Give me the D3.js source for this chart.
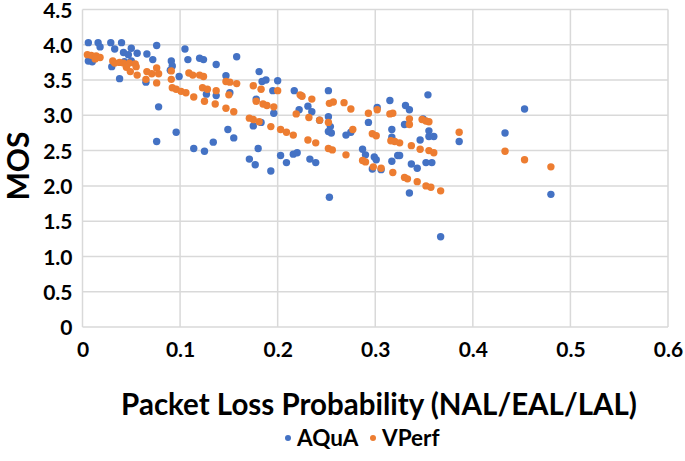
<!DOCTYPE html>
<html><head><meta charset="utf-8">
<script src="https://cdn.jsdelivr.net/npm/d3@7"></script>
<style>
body{margin:0;background:#fff;}
text{font-family:Lato,"Open Sans",sans-serif;font-weight:700;fill:#000;}
</style></head>
<body><svg id="c" width="685" height="461"></svg>
<script>
const aquaX=[0.006,0.016,0.018,0.029,0.033,0.040,0.042,0.047,0.050,0.056,0.066,0.072,0.076,0.006,0.010,0.030,0.038,0.065,0.043,0.050,0.091,0.092,0.090,0.099,0.105,0.108,0.078,0.096,0.076,0.114,0.120,0.124,0.137,0.158,0.147,0.181,0.184,0.188,0.200,0.127,0.137,0.151,0.178,0.195,0.196,0.217,0.175,0.183,0.149,0.155,0.134,0.125,0.180,0.171,0.177,0.193,0.203,0.209,0.216,0.220,0.222,0.224,0.231,0.235,0.243,0.252,0.252,0.254,0.252,0.255,0.270,0.275,0.233,0.239,0.253,0.287,0.290,0.299,0.301,0.297,0.306,0.302,0.293,0.315,0.317,0.317,0.317,0.323,0.331,0.335,0.354,0.330,0.349,0.355,0.355,0.360,0.346,0.386,0.325,0.337,0.343,0.352,0.358,0.335,0.433,0.453,0.480,0.367];
const aquaY=[4.03,4.03,3.97,4.03,3.94,4.03,3.89,3.86,3.95,3.88,3.87,3.79,3.99,3.77,3.76,3.69,3.52,3.47,3.76,3.77,3.77,3.70,3.64,3.55,3.94,3.79,3.12,2.76,2.63,2.53,3.81,3.79,3.72,3.83,3.56,3.62,3.48,3.50,3.49,3.30,3.28,3.32,3.23,3.35,3.03,3.35,2.85,2.90,2.80,2.68,2.62,2.49,2.53,2.38,2.30,2.21,2.43,2.33,2.45,2.47,3.08,3.28,3.13,3.05,2.93,3.35,2.98,2.84,2.77,2.75,2.72,2.76,2.38,2.33,1.84,2.52,2.44,2.41,2.37,2.24,2.23,3.11,2.90,3.21,2.80,2.69,2.35,2.43,3.14,3.08,3.29,2.87,2.95,2.78,2.70,2.70,2.65,2.63,2.43,2.31,2.25,2.33,2.33,1.90,2.75,3.09,1.88,1.28];
const vperfX=[0.005,0.009,0.014,0.018,0.013,0.031,0.033,0.038,0.042,0.048,0.054,0.055,0.045,0.049,0.056,0.066,0.071,0.076,0.078,0.065,0.076,0.091,0.091,0.092,0.096,0.101,0.106,0.109,0.113,0.114,0.120,0.124,0.123,0.128,0.137,0.125,0.136,0.147,0.151,0.158,0.150,0.147,0.155,0.175,0.183,0.178,0.185,0.189,0.196,0.200,0.171,0.175,0.181,0.193,0.203,0.209,0.216,0.219,0.223,0.225,0.235,0.253,0.257,0.268,0.275,0.232,0.243,0.252,0.277,0.231,0.239,0.252,0.256,0.270,0.293,0.302,0.315,0.318,0.297,0.301,0.316,0.320,0.287,0.290,0.298,0.306,0.318,0.335,0.335,0.348,0.352,0.355,0.325,0.337,0.346,0.355,0.360,0.386,0.330,0.333,0.343,0.352,0.357,0.367,0.433,0.453,0.480];
const vperfY=[3.86,3.85,3.84,3.82,3.80,3.77,3.74,3.75,3.74,3.74,3.73,3.69,3.68,3.62,3.57,3.62,3.59,3.67,3.59,3.51,3.46,3.63,3.51,3.39,3.37,3.34,3.32,3.60,3.57,3.26,3.57,3.55,3.39,3.37,3.35,3.20,3.16,3.48,3.47,3.45,3.29,3.10,3.05,3.42,3.37,3.20,3.16,3.14,3.12,3.35,2.96,2.94,2.91,2.84,2.80,2.76,2.72,3.02,3.29,3.27,3.23,3.17,3.19,3.18,3.09,2.97,2.93,2.90,2.80,2.65,2.61,2.53,2.51,2.44,3.03,3.08,3.02,3.03,2.74,2.71,2.64,2.63,2.36,2.34,2.27,2.25,2.19,2.95,2.87,2.94,2.92,2.91,2.61,2.57,2.52,2.50,2.47,2.76,2.12,2.10,2.06,2.00,1.98,1.93,2.49,2.37,2.27];
const xTicks=[0,0.1,0.2,0.3,0.4,0.5,0.6];
const yTicks=[0,0.5,1.0,1.5,2.0,2.5,3.0,3.5,4.0,4.5];
const seriesNames=["AQuA","VPerf"];
const colors=["#4472C4","#ED7D31"];

const svg=d3.select("#c");
const L=82.5,R=668,T=9.5,B=327;
const x=d3.scaleLinear().domain([0,0.6]).range([L,R]);
const y=d3.scaleLinear().domain([0,4.5]).range([B,T]);

// grid
svg.append("g").selectAll("line").data(yTicks).join("line")
 .attr("x1",L).attr("x2",R).attr("y1",d=>y(d)).attr("y2",d=>y(d))
 .attr("stroke","#d9d9d9").attr("stroke-width",1.5);
svg.append("g").selectAll("line").data(xTicks).join("line")
 .attr("y1",T).attr("y2",B).attr("x1",d=>x(d)).attr("x2",d=>x(d))
 .attr("stroke","#d9d9d9").attr("stroke-width",1.5);

// axes labels
const fmt=d=>d===0?"0":d3.format(".1f")(d);
const yAxis=d3.axisLeft(y).tickValues(yTicks).tickFormat(fmt).tickSize(0).tickPadding(10);
const gy=svg.append("g").attr("transform",`translate(${L},0)`).call(yAxis);
gy.select(".domain").remove();
gy.selectAll("text").attr("font-size",21).attr("dy","0.36em").style("font-family","Lato").style("font-weight","700").attr("fill","#000");
const xAxis=d3.axisBottom(x).tickValues(xTicks).tickFormat(fmt).tickSize(0).tickPadding(15);
const gx=svg.append("g").attr("transform",`translate(0,${B})`).call(xAxis);
gx.select(".domain").remove();
gx.selectAll("text").attr("font-size",21).style("font-family","Lato").style("font-weight","700").attr("fill","#000");

// points
const aqua=aquaX.map((v,i)=>[v,aquaY[i]]);
const vperf=vperfX.map((v,i)=>[v,vperfY[i]]);
svg.append("g").selectAll("circle").data(aqua).join("circle")
 .attr("cx",d=>x(d[0])).attr("cy",d=>y(d[1])).attr("r",3.7).attr("fill",colors[0]);
svg.append("g").selectAll("circle").data(vperf).join("circle")
 .attr("cx",d=>x(d[0])).attr("cy",d=>y(d[1])).attr("r",3.7).attr("fill",colors[1]);

// titles
svg.append("text").attr("transform","translate(29,166) rotate(-90)").attr("text-anchor","middle")
 .attr("font-size",30).text("MOS");
svg.append("text").attr("x",379).attr("y",415).attr("text-anchor","middle")
 .attr("font-size",29.5).text("Packet Loss Probability (NAL/EAL/LAL)");

// legend
const lg=svg.append("g");
const lx=[288,373];
seriesNames.forEach((n,i)=>{
  lg.append("circle").attr("cx",lx[i]).attr("cy",438).attr("r",3).attr("fill",colors[i]);
  lg.append("text").attr("x",lx[i]+9).attr("y",446).attr("font-size",22.5).text(n);
});
</script></body></html>
